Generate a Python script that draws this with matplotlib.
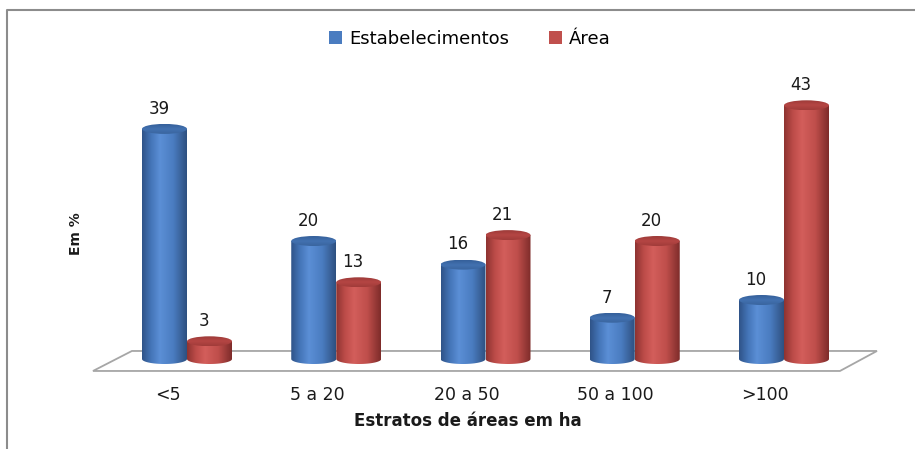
import numpy as np
import matplotlib.pyplot as plt
from matplotlib.patches import Polygon, Ellipse, Patch
from matplotlib.colors import LinearSegmentedColormap
from matplotlib.lines import Line2D

# data
categories = ['<5', '5 a 20', '20 a 50', '50 a 100', '>100']
estabelecimentos = [39, 20, 16, 7, 10]
area = [3, 13, 21, 20, 43]
series_names = ['Estabelecimentos', 'Área']

# colours: (edge dark, mid, highlight, mid, edge dark), top ellipse
blue_grad = ['#2f5388', '#4475b8', '#5b8fd6', '#4a7cc0', '#2e5080']
red_grad = ['#8e3331', '#bd4c49', '#d35e5b', '#bf4e4b', '#7e2c2a']
blue_top = ['#35609a', '#4271b0', '#3a659f']
red_top = ['#9c3a38', '#b54644', '#a03c3a']

W, H = 915, 449
fig = plt.figure(figsize=(W / 100, H / 100), dpi=100)
ax = fig.add_axes([0, 0, 1, 1])
ax.axis('off')

# pixel -> data scale
px_y = 5.9          # pixels per percent
px_x = 149.25       # pixels per category
y_base = 90         # pixels from bottom for value 0
x_first = 187       # pixel x of first category centre
xlim = (-x_first / px_x, (W - x_first) / px_x)
ylim = (-y_base / px_y, (H - y_base) / px_y)

bar_w = 45 / px_x
eh = 10 / px_y      # ellipse height in data units


def cylinder(xc, val, grad, top, z):
    x0, x1 = xc - bar_w / 2, xc + bar_w / 2
    t = np.linspace(0, np.pi, 40)
    arc = np.column_stack([xc + bar_w / 2 * np.cos(t), -eh / 2 * np.sin(t)])
    verts = np.vstack([[x1, val], arc, [x0, val]])
    body = Polygon(verts, closed=True, facecolor='none', edgecolor='none')
    ax.add_patch(body)
    cmap = LinearSegmentedColormap.from_list('g', list(zip([0, 0.2, 0.4, 0.7, 1], grad)))
    im = ax.imshow(np.linspace(0, 1, 200)[None, :], cmap=cmap, aspect='auto',
                   extent=[x0, x1, -eh / 2, val], zorder=z, interpolation='bilinear')
    im.set_clip_path(body)
    # top cap, shaded darker
    cap = Ellipse((xc, val), bar_w, eh, facecolor='none', edgecolor='none')
    ax.add_patch(cap)
    tmap = LinearSegmentedColormap.from_list('t', top)
    im2 = ax.imshow(np.linspace(0, 1, 100)[:, None], cmap=tmap, aspect='auto',
                    extent=[x0, x1, val - eh / 2, val + eh / 2], zorder=z + 0.1,
                    interpolation='bilinear')
    im2.set_clip_path(cap)
    ax.annotate(str(val), (xc, val), xytext=(-4, 8), textcoords='offset points',
                ha='center', va='bottom', fontsize=12, color='#1a1a1a', zorder=z + 0.2)


# floor
floor = Polygon([[-0.63, -2.03], [4.375, -2.03], [4.623, 1.36], [-0.369, 1.36]],
                closed=True, facecolor='white', edgecolor='#a6a6a6', lw=1.3, zorder=1)
ax.add_patch(floor)

for i in range(len(categories)):
    cylinder(i - bar_w / 2, estabelecimentos[i], blue_grad, blue_top, 10 + i * 2)
    cylinder(i + bar_w / 2, area[i], red_grad, red_top, 11 + i * 2)
    ax.text(i - 0.127, -6.1, categories[i], ha='center', va='center',
            fontsize=12.5, color='#1a1a1a')

ax.set_xlim(*xlim)
ax.set_ylim(*ylim)

# titles
fig.text(468 / W, 1 - 421 / H, 'Estratos de áreas em ha', ha='center', va='center',
         fontsize=12, fontweight='bold', color='#1a1a1a')
fig.text(76 / W, 1 - 234 / H, 'Em %', ha='center', va='center', rotation=90,
         fontsize=10, fontweight='bold', color='#1a1a1a')

# legend
handles = [Patch(facecolor='#4a7cc0'), Patch(facecolor='#c0504d')]
fig.legend(handles, series_names, ncol=2, loc='center', bbox_to_anchor=(470 / W, 1 - 38.5 / H),
           frameon=False, handlelength=0.7, handleheight=0.7, columnspacing=2.2,
           handletextpad=0.4, fontsize=13)

# chart frame
fig.add_artist(Line2D([7 / W, 7 / W, 1], [0, 1 - 10 / H, 1 - 10 / H],
                      transform=fig.transFigure, color='#8c8c8c', lw=1.5))

fig.savefig('out.png', dpi=100)
